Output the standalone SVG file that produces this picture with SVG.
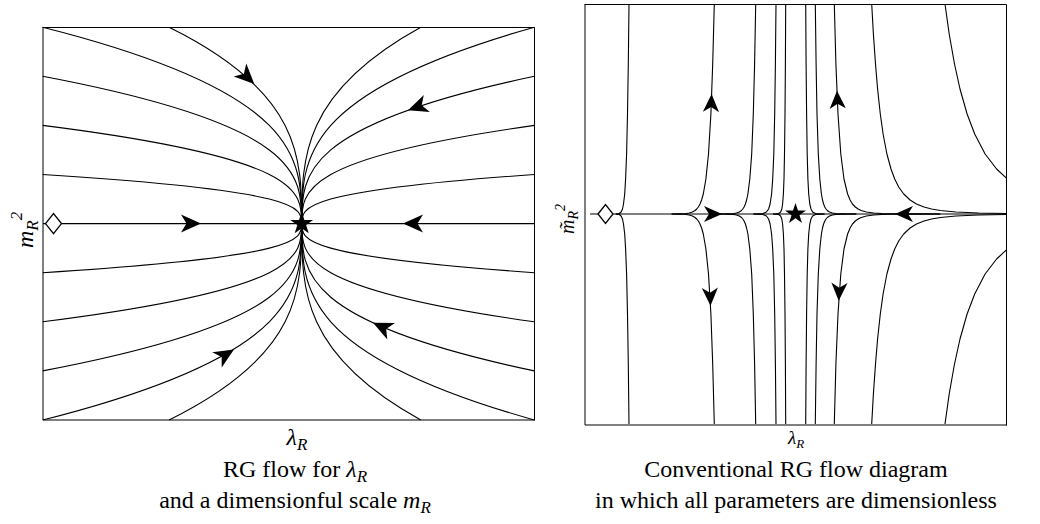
<svg xmlns="http://www.w3.org/2000/svg" xmlns:xlink="http://www.w3.org/1999/xlink" width="1040" height="524" viewBox="0 0 1040 524">
<style>
.c{fill:none;stroke:#000;stroke-width:1.1;stroke-linejoin:round}
.fr{fill:none;stroke:#000;stroke-width:1}
.ax{fill:none;stroke:#000;stroke-width:1.2}
.fp{fill:#fff;stroke:#000;stroke-width:1.3}
.t{font-family:'Liberation Serif','Times New Roman',serif;fill:#000}
.i{font-style:italic}
</style>
<defs>
<path id="ah" d="M0,0 L-20,-9 L-14.5,0 L-20,9 Z" fill="#000"/>
<path id="star" d="M0,-12 L2.7,-3.72 L11.41,-3.71 L4.37,1.42 L7.05,9.71 L0,4.6 L-7.05,9.71 L-4.37,1.42 L-11.41,-3.71 L-2.7,-3.72 Z" fill="#000"/>
<g id="ltop">
<path class="c" d="M301.7,223.6 C301.7,207.23 301.7,190.87 42.7,174.5"/>
<path class="c" d="M301.7,223.6 C301.7,190.87 301.7,158.13 42.7,125.4"/>
<path class="c" d="M301.7,223.6 C301.7,174.5 301.7,125.4 42.7,76.3"/>
<path class="c" d="M301.7,223.6 C301.7,158.13 301.7,92.67 42.7,27.2"/>
<path class="c" d="M301.7,223.6 C301.7,158.13 301.7,92.67 169.1,27.2"/>
<path class="c" d="M301.7,223.6 C301.7,207.23 301.7,190.87 534.3,174.5"/>
<path class="c" d="M301.7,223.6 C301.7,190.87 301.7,158.13 534.3,125.4"/>
<path class="c" d="M301.7,223.6 C301.7,174.5 301.7,125.4 534.3,76.3"/>
<path class="c" d="M301.7,223.6 C301.7,158.13 301.7,92.67 534.3,27.2"/>
<path class="c" d="M301.7,223.6 C301.7,158.13 301.7,92.67 420.8,27.2"/>
</g>
<g id="rtop">
<polyline class="c" points="629.0,4 628.3,64 627.5,114 626.6,154 625.6,179 624.7,194 623.5,204 622.5,209 621.1,212 619.3,213.5 617.4,213.9 615.8,214"/>
<polyline class="c" points="714.3,4 712.7,64 710.9,114 708.5,154 705.9,179 703.3,194 701.6,200 700.0,204 698.3,207 696.7,209 695.1,210.5 692.4,212 689.2,213 686.0,213.5 682.8,213.75 678.7,213.9 671.6,214"/>
<polyline class="c" points="755.7,4 754.6,64 753.3,114 751.7,154 749.8,179 747.9,194 746.6,200 745.4,204 744.1,207 742.8,209 741.5,210.5 739.3,212 736.5,213 733.7,213.5 726.8,213.9 719.7,214"/>
<polyline class="c" points="776.0,4 775.4,64 774.7,114 773.8,154 772.7,179 771.6,194 770.1,204 768.6,209 766.4,212 762.9,213.5 758.4,213.9 753.4,214"/>
<polyline class="c" points="785.7,4 785.4,64 785.0,114 784.5,154 784.0,179 783.4,194 782.6,204 781.8,209 780.6,212 778.7,213.5 776.1,213.9 773.2,214"/>
<polyline class="c" points="805.7,4 806.1,64 806.6,114 807.2,154 807.9,179 808.7,194 809.8,204 811.0,209 812.6,212 815.5,213.5 819.6,213.9 824.6,214"/>
<polyline class="c" points="815.3,4 816.1,64 817.0,114 818.3,154 819.8,179 821.4,194 822.5,200 823.6,204 824.8,207 826.0,209 827.3,210.5 829.5,212 832.5,213 835.8,213.5 844.8,213.9 856.3,214"/>
<polyline class="c" points="834.3,4 835.9,64 838.0,114 840.8,154 844.0,179 847.6,194 850.1,200 852.5,204 855.3,207 858.1,209 861.2,210.5 866.4,212 873.7,213 881.9,213.5 891.3,213.75 906.0,213.9 940.2,214"/>
<polyline class="c" points="871.7,4 873.4,34 875.5,64 877.6,89 880.3,114 883.1,134 886.9,154 891.0,169 894.7,179 898.7,187 903.7,194 910.1,200 916.5,204 924.0,207 931.6,209 940.4,210.5 955.9,212 978.7,213 1006.6,213.5"/>
<polyline class="c" points="945,4 949.2,34 954.5,64 960.0,89 967.1,114 974.7,134 985.1,154 996.6,169 1006.7,178.3"/>
</g>
</defs>

<g id="left-panel">
<g id="left-flow">
<use href="#ltop"/>
<use href="#ltop" transform="translate(0,447.2) scale(1,-1)"/>
<line class="ax" x1="43" y1="223.6" x2="534.3" y2="223.6"/>
</g>
<g id="left-frame">
<line class="fr" x1="43" y1="27.5" x2="43" y2="420"/>
<line class="fr" x1="43" y1="420" x2="534.5" y2="420"/>
<line class="fr" x1="42.5" y1="27.5" x2="534.5" y2="27.5"/>
<line class="fr" x1="534.5" y1="27.5" x2="534.5" y2="420.5"/>
</g>
<g id="left-arrows">
<use href="#ah" transform="translate(201,223.6)"/>
<use href="#ah" transform="translate(403,223.6) rotate(180)"/>
<use href="#ah" transform="translate(254.3,84) rotate(44.3)"/>
<use href="#ah" transform="translate(408,110.2) rotate(160.4)"/>
<use href="#ah" transform="translate(234,349.4) rotate(-31.7)"/>
<use href="#ah" transform="translate(373,322.8) rotate(-155)"/>
</g>
<g id="left-gaussian"><path class="fp" d="M45.5,223.6 L53.5,213.6 L61.5,223.6 L53.5,233.6 Z"/></g>
<g id="left-star"><use href="#star" transform="translate(301.7,223.6)"/></g>
<text class="t i" transform="translate(33,248) rotate(-90)" font-size="24">m<tspan font-size="17" dy="5">R</tspan><tspan font-size="17" dy="-16">2</tspan></text>
<text class="t" x="297" y="445" font-size="24" text-anchor="middle"><tspan class="i">λ</tspan><tspan class="i" font-size="17" dy="5">R</tspan></text>
<text class="t" x="295" y="477" font-size="24" text-anchor="middle">RG flow for <tspan class="i">λ</tspan><tspan class="i" font-size="17" dy="5">R</tspan></text>
<text class="t" x="295" y="508" font-size="24" text-anchor="middle">and a dimensionful scale <tspan class="i">m</tspan><tspan class="i" font-size="17" dy="5">R</tspan></text>
</g>

<g id="right-panel">
<g id="right-flow">
<use href="#rtop"/>
<use href="#rtop" transform="translate(0,428) scale(1,-1)"/>
<line class="ax" x1="590" y1="214" x2="1006.5" y2="214"/>
</g>
<g id="right-frame">
<line class="fr" x1="585" y1="4.5" x2="585" y2="425"/>
<line class="fr" x1="585" y1="425" x2="1006.5" y2="425"/>
<line class="fr" x1="584.5" y1="4.5" x2="1006.5" y2="4.5"/>
<line class="fr" x1="1006.5" y1="4.5" x2="1006.5" y2="425.5"/>
</g>
<g id="right-arrows">
<use href="#ah" transform="translate(722,214) scale(0.9)"/>
<use href="#ah" transform="translate(895,214) rotate(180) scale(0.9)"/>
<use href="#ah" transform="translate(711.6,94) rotate(-88) scale(0.9)"/>
<use href="#ah" transform="translate(710.5,305.7) rotate(88) scale(0.9)"/>
<use href="#ah" transform="translate(837,90.7) rotate(-92.4) scale(0.9)"/>
<use href="#ah" transform="translate(838.7,300.7) rotate(92.4) scale(0.9)"/>
</g>
<g id="right-gaussian"><path class="fp" d="M598,214 L605.5,204.5 L613,214 L605.5,223.5 Z"/></g>
<g id="right-star"><use href="#star" transform="translate(795.5,214) scale(0.92)"/></g>
<text class="t i" transform="translate(574,234) rotate(-90)" font-size="20">m̃<tspan font-size="14" dy="4">R</tspan><tspan font-size="14" dy="-13">2</tspan></text>
<text class="t" x="796" y="444" font-size="19" text-anchor="middle"><tspan class="i">λ</tspan><tspan class="i" font-size="13" dy="4">R</tspan></text>
<text class="t" x="796" y="477" font-size="24" text-anchor="middle">Conventional RG flow diagram</text>
<text class="t" x="796" y="508" font-size="24" text-anchor="middle">in which all parameters are dimensionless</text>
</g>
</svg>
